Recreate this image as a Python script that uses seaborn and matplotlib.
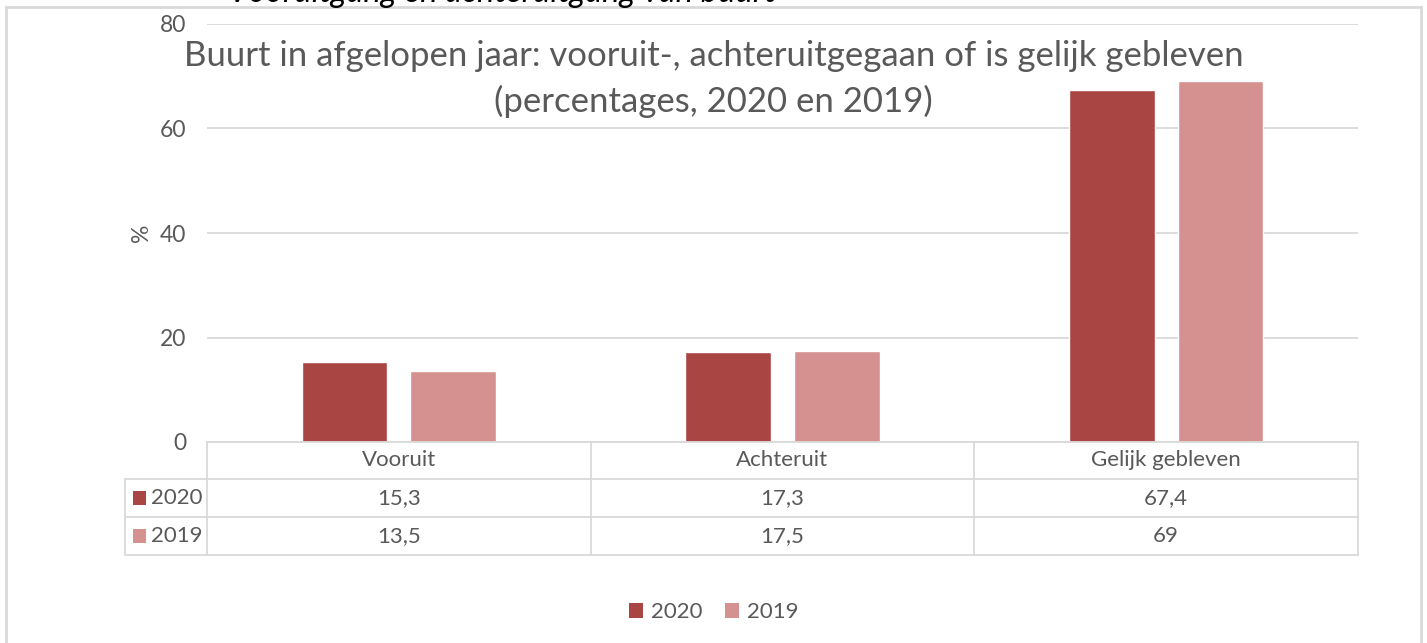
import numpy as np
import pandas as pd
import matplotlib
matplotlib.use("Agg")
import matplotlib.pyplot as plt
import matplotlib.transforms as mtransforms
from matplotlib.patches import Patch, Rectangle
import seaborn as sns

# Data
categories = ["Vooruit", "Achteruit", "Gelijk gebleven"]
years = ["2020", "2019"]
values_2020 = [15.3, 17.3, 67.4]
values_2019 = [13.5, 17.5, 69]
value_labels_2020 = ["15,3", "17,3", "67,4"]
value_labels_2019 = ["13,5", "17,5", "69"]
y_ticks = [0, 20, 40, 60, 80]

colors = {"2020": "#A94543", "2019": "#D49190"}
grid_color = "#D9D9D9"
text_color = "#595959"

df = pd.DataFrame({
    "categorie": categories * 2,
    "jaar": ["2020"] * 3 + ["2019"] * 3,
    "waarde": values_2020 + values_2019,
})

sns.set_style("white")
plt.rcParams["font.family"] = ["Lato", "DejaVu Sans"]

W, H = 1427, 643
fig = plt.figure(figsize=(W / 100, H / 100), dpi=100)
ax = fig.add_axes([207 / W, 1 - 442 / H, (1358 - 207) / W, (442 - 24) / H])

sns.barplot(data=df, x="categorie", y="waarde", hue="jaar", hue_order=years,
            palette=colors, width=0.566, gap=0.21, ax=ax, legend=False,
            saturation=1)

ax.set_xlim(-0.5, 2.5)
ax.set_ylim(0, 80)
ax.set_yticks(y_ticks)
ax.set_yticklabels([str(t) for t in y_ticks], fontsize=16.5, color=text_color)
ax.tick_params(axis="y", length=0, pad=15)
ax.set_xticks([])
ax.set_xlabel("")
ax.set_ylabel("%", fontsize=16.5, color=text_color, labelpad=5.5)
for s in ax.spines.values():
    s.set_visible(False)
ax.yaxis.grid(True, color=grid_color, linewidth=1.3)
ax.set_axisbelow(True)

# Data table under the axis
trans = mtransforms.blended_transform_factory(ax.transData, ax.transAxes)
ah = 418
r0, r1, r2, r3 = 0, -37 / ah, -75 / ah, -113 / ah
lab_x = -0.5 - 82 / (1151 / 3)
lk = dict(color=grid_color, linewidth=1.3, transform=trans, clip_on=False)
ax.plot([-0.5, 2.5], [r0, r0], **lk)
for y in (r1, r2, r3):
    ax.plot([lab_x, 2.5], [y, y], **lk)
for x in (-0.5, 0.5, 1.5, 2.5):
    ax.plot([x, x], [r0, r3], **lk)
ax.plot([lab_x, lab_x], [r1, r3], **lk)

tk = dict(fontsize=16, color=text_color, ha="center", va="center",
          transform=trans, clip_on=False)
for i, cat in enumerate(categories):
    ax.text(i, (r0 + r1) / 2, cat, **tk)
    ax.text(i, (r1 + r2) / 2, value_labels_2020[i], **tk)
    ax.text(i, (r2 + r3) / 2, value_labels_2019[i], **tk)

for yr, (ya, yb) in zip(years, [(r1, r2), (r2, r3)]):
    yc = (ya + yb) / 2
    ax.add_patch(Rectangle((lab_x + 0.02, yc - 0.017), 0.036, 0.034,
                           facecolor=colors[yr], edgecolor="none",
                           transform=trans, clip_on=False))
    ax.text(lab_x + 0.068, yc, yr, fontsize=16, color=text_color,
            ha="left", va="center", transform=trans, clip_on=False)

# Titles
fig.text(0.5, 1 - 79 / H,
         "Buurt in afgelopen jaar: vooruit-, achteruitgegaan of is gelijk gebleven\n(percentages, 2020 en 2019)",
         ha="center", va="center", fontsize=25, color=text_color, linespacing=1.5)
# caption above the chart, cut off by the top edge as in the source
fig.text(502 / W, 1 - 2.5 / H, "Vooruitgang en achteruitgang van buurt",
         ha="center", va="baseline", fontsize=23.7, style="italic", color="black")

# Legend
handles = [Patch(facecolor=colors[y], edgecolor="none", label=y) for y in years]
fig.legend(handles=handles, loc="center", bbox_to_anchor=(0.5, 1 - 612 / H),
           ncol=2, frameon=False, fontsize=16, handlelength=0.65,
           handleheight=0.65, handletextpad=0.35, columnspacing=1.0,
           labelcolor=text_color)

# Chart border
fig.patches.append(Rectangle((6 / W, -0.05), (1421 - 6) / W, 1.05 - 7 / H,
                             transform=fig.transFigure, fill=False,
                             edgecolor=grid_color, linewidth=2))

fig.savefig("out.png", dpi=100)
